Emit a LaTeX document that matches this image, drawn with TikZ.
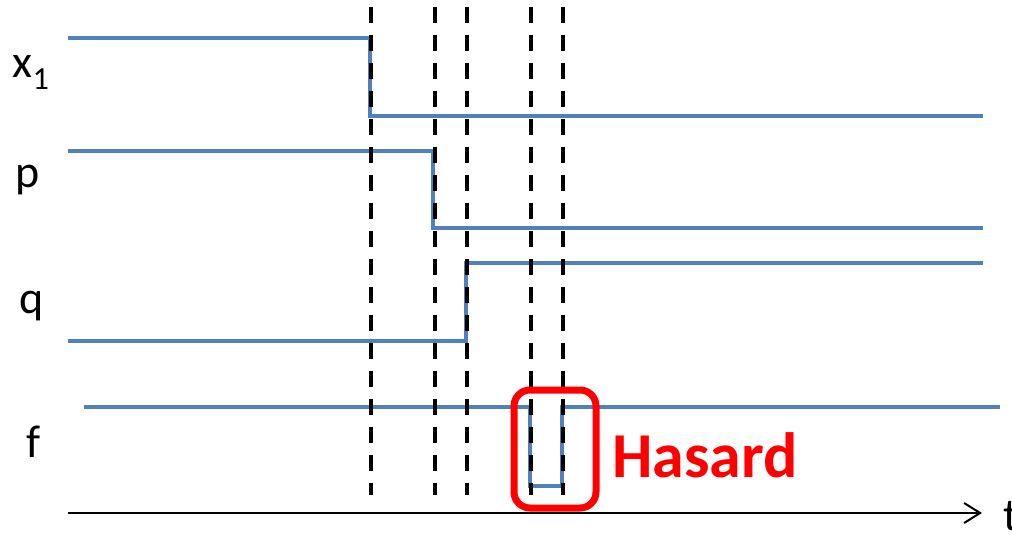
\documentclass[tikz,border=0pt]{standalone}
\usepackage{fontspec}
\setmainfont{Carlito}
\usetikzlibrary{arrows.meta}
\definecolor{sigblue}{HTML}{4F81BD}
\definecolor{hazred}{HTML}{FF0000}
\tikzset{
  signal/.style={draw=sigblue, line width=4pt, line join=miter},
  marker/.style={draw=black, line width=4pt, dash pattern=on 16pt off 12pt},
  axisline/.style={draw=black, line width=2pt, -{Straight Barb[length=16pt,width=20pt,line width=2pt]}},
  siglabel/.style={font=\fontsize{46}{50}\selectfont, anchor=base, inner sep=0pt},
  hazbox/.style={draw=hazred, line width=7pt, rounded corners=16pt},
  haztext/.style={font=\bfseries\fontsize{64}{68}\selectfont, text=hazred, anchor=base west, inner sep=0pt}
}
\begin{document}
\begin{tikzpicture}[x=1pt,y=-1pt]
  \useasboundingbox (0,0) rectangle (1012,538);

  % signal names
  \node[siglabel] (lx) at (31,77) {x$_{\mathrm{1}}$};
  \node[siglabel] (lp) at (28,187) {p};
  \node[siglabel] (lq) at (32,313) {q};
  \node[siglabel] (lf) at (34,457) {f};

  % waveforms
  \draw[signal] (68,38) -- (370,38) -- (370,116) -- (983,116);
  \draw[signal] (68,151) -- (433,151) -- (433,228) -- (983,228);
  \draw[signal] (68,341) -- (466,341) -- (466,263) -- (983,263);
  \draw[signal] (84,407) -- (530,407) -- (530,486) -- (562,486) -- (562,407) -- (1000,407);

  % time instants, drawn over the waveforms
  \foreach \n/\x in {a/371, b/435, c/467, d/531, e/563} {
    \coordinate (\n top) at (\x,7);
    \coordinate (\n bot) at (\x,495);
    \draw[marker] (\n top) -- (\n bot);
  }

  % time axis
  \coordinate (t0) at (68,513);
  \coordinate (t1) at (982,513);
  \draw[axisline] (t0) -- (t1);
  \node[siglabel, anchor=base west] (lt) at (1003,530) {t};

  % glitch
  \node[hazbox, minimum width=82pt, minimum height=118pt, inner sep=0pt] (glitch) at (555,449) {};
  \node[haztext] (hz) at (612,477) {Hasard};
\end{tikzpicture}
\end{document}
